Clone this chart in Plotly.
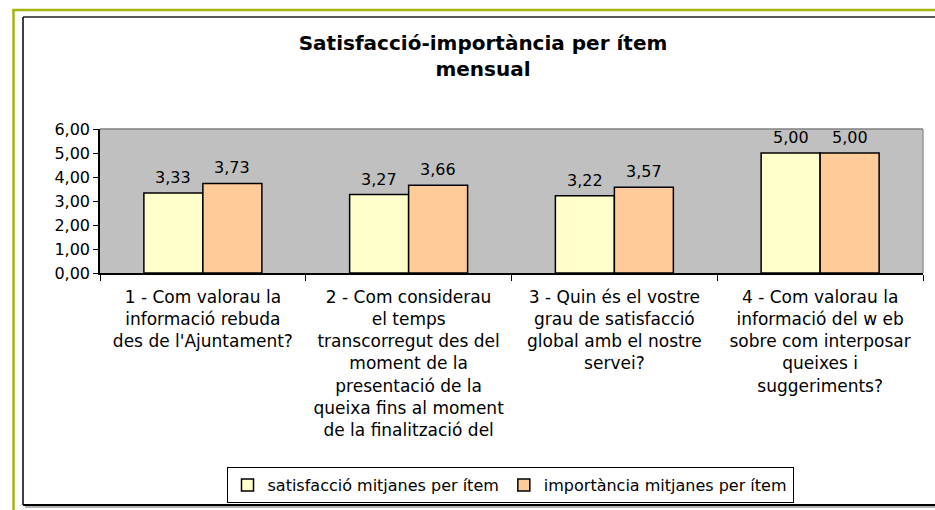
import plotly.graph_objects as go

categories = [
    "1 - Com valorau la<br>informació rebuda<br>des de l'Ajuntament?",
    "2 - Com considerau<br>el temps<br>transcorregut des del<br>moment de la<br>presentació de la<br>queixa fins al moment<br>de la finalització del",
    "3 - Quin és el vostre<br>grau de satisfacció<br>global amb el nostre<br>servei?",
    "4 - Com valorau la<br>informació del w eb<br>sobre com interposar<br>queixes i<br>suggeriments?",
]
satisfaccio = [3.33, 3.27, 3.22, 5.00]
importancia = [3.73, 3.66, 3.57, 5.00]
series_names = ["satisfacció mitjanes per ítem", "importància mitjanes per ítem"]
y_ticks = [0, 1, 2, 3, 4, 5, 6]

W, H = 935, 510
L, R, T, B = 100, 12, 129, 237
PW = W - L - R
PH = H - T - B

def xp(px):
    return (px - L) / PW

def yp(py):
    return (H - B - py) / PH

FONT = "DejaVu Sans"

fig = go.Figure()
fig.add_trace(go.Bar(
    x=categories, y=satisfaccio, name=series_names[0],
    marker=dict(color="#ffffcc", line=dict(color="black", width=1.5)),
))
fig.add_trace(go.Bar(
    x=categories, y=importancia, name=series_names[1],
    marker=dict(color="#ffcc99", line=dict(color="black", width=1.5)),
))

annotations = []
group_half = PW / 4 * (1 - 0.4265) / 4
for vals, sh in ((satisfaccio, -group_half), (importancia, group_half)):
    for c, v in zip(categories, vals):
        annotations.append(dict(
            x=c, y=v, xref="x", yref="y", text=f"{v:.2f}".replace(".", ","),
            showarrow=False, xshift=sh, yshift=4, yanchor="bottom",
            font=dict(family=FONT, size=16, color="black"),
        ))

shapes = [
    # outer olive frame
    dict(type="line", xref="paper", yref="paper", x0=xp(13.5), x1=xp(13.5), y0=yp(9), y1=yp(512),
         line=dict(color="#a3b50f", width=2.5)),
    dict(type="line", xref="paper", yref="paper", x0=xp(12.5), x1=xp(940), y0=yp(10), y1=yp(10),
         line=dict(color="#a3b50f", width=2.5)),
    # black chart frame
    dict(type="line", xref="paper", yref="paper", x0=xp(23), x1=xp(23), y0=yp(17), y1=yp(505),
         line=dict(color="black", width=1.5)),
    dict(type="line", xref="paper", yref="paper", x0=xp(23), x1=xp(940), y0=yp(17), y1=yp(17),
         line=dict(color="#222222", width=1.5)),
    dict(type="line", xref="paper", yref="paper", x0=xp(25), x1=xp(940), y0=yp(507), y1=yp(507),
         line=dict(color="#999999", width=1.5)),
    dict(type="line", xref="paper", yref="paper", x0=xp(23), x1=xp(940), y0=yp(505), y1=yp(505),
         line=dict(color="black", width=2)),
    # plot area border (gray top/right)
    dict(type="line", xref="paper", yref="paper", x0=0, x1=1, y0=1, y1=1,
         line=dict(color="#808080", width=1.5)),
    dict(type="line", xref="paper", yref="paper", x0=1, x1=1, y0=0, y1=1,
         line=dict(color="#999999", width=1.5)),
]

fig.update_layout(
    width=W, height=H,
    margin=dict(l=L, r=R, t=T, b=B, autoexpand=False),
    paper_bgcolor="white", plot_bgcolor="#c0c0c0",
    separators=",.",
    barmode="group", bargap=0.4265, bargroupgap=0,
    font=dict(family=FONT, size=16, color="black"),
    title=dict(
        text="<b>Satisfacció-importància per ítem<br>mensual</b>",
        x=0.5166, xanchor="center", y=1 - 50 / H, yanchor="top",
        font=dict(family=FONT, size=20, color="black"),
    ),
    xaxis=dict(
        showline=True, linecolor="black", linewidth=1.5,
        ticks="outside", tickson="boundaries", ticklen=6, tickcolor="black",
        tickfont=dict(family=FONT, size=17, color="black"),
        showgrid=False, automargin=False, ticklabelstandoff=8,
    ),
    yaxis=dict(
        range=[0, 6], tickvals=y_ticks, tickformat=".2f",
        showline=True, linecolor="black", linewidth=1.5,
        ticks="outside", ticklen=5, tickcolor="black",
        tickfont=dict(family=FONT, size=16, color="black"),
        showgrid=False, zeroline=False, automargin=False,
    ),
    legend=dict(
        orientation="h", x=xp(510), xanchor="center", y=yp(467), yanchor="top",
        bordercolor="black", borderwidth=1, bgcolor="white",
        font=dict(family=FONT, size=16, color="black"),
        traceorder="normal",
    ),
    annotations=annotations,
    shapes=shapes,
    showlegend=True,
)

fig.write_html(
    "out.html",
    config={"displayModeBar": False},
    post_script="document.body.style.margin='0';document.body.style.overflow='hidden';",
)
